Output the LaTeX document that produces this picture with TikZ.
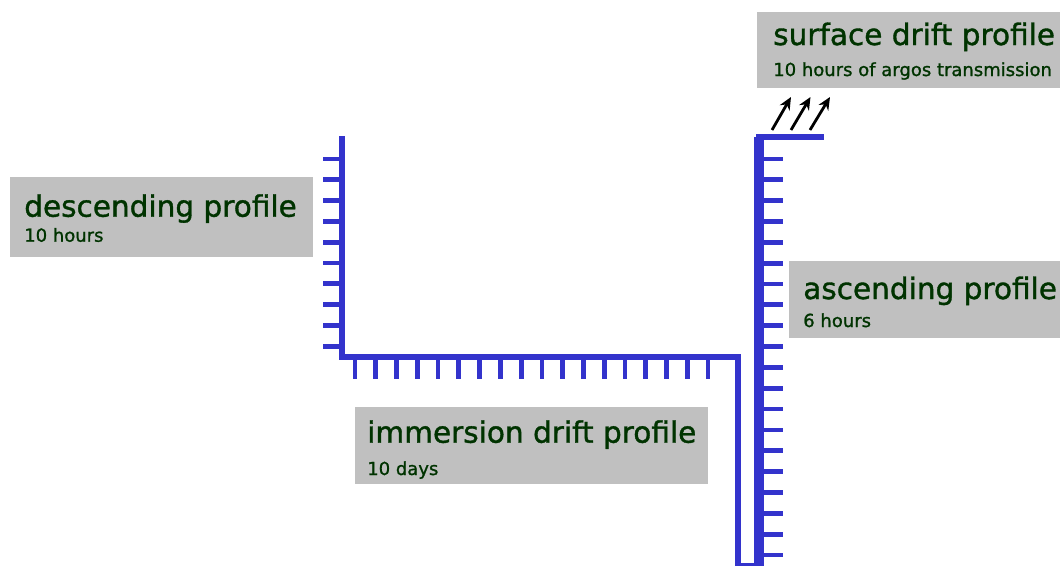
\documentclass[tikz,border=0pt]{standalone}
\usepackage{fontspec}
\setmainfont{DejaVu Sans}
\newfontfamily\boldishfont[FakeBold=1.2]{DejaVu Sans}
\usetikzlibrary{arrows.meta}
\definecolor{floatblue}{RGB}{51,51,204}
\definecolor{labelgray}{RGB}{192,192,192}
\definecolor{labelgreen}{RGB}{0,51,0}
\tikzset{
    bigtxt/.style={font=\boldishfont\fontsize{21}{25}\selectfont, text=labelgreen,
                   anchor=base west, inner sep=0pt},
    smalltxt/.style={font=\boldishfont\fontsize{12.8}{15}\selectfont, text=labelgreen,
                     anchor=base west, inner sep=0pt},
    profline/.style={floatblue, line width=0.15cm},
    tick/.style={floatblue, line width=0.12cm},
}
\begin{document}
\begin{tikzpicture}[x=0.025cm, y=-0.025cm]
\useasboundingbox (0,0) rectangle (1060,566);
\begin{scope}
    \fill[labelgray] (10,177)  rectangle (313,257);
    \node[bigtxt]   (desc)   at (24,216.7) {descending profile};
    \node[smalltxt] (desct)  at (24,241.7) {10 hours};

    \fill[labelgray] (355,407) rectangle (708,484);
    \node[bigtxt]   (immer)  at (367,442.7) {immersion drift profile};
    \node[smalltxt] (immert) at (367,475)   {10 days};

    \fill[labelgray] (789,261) rectangle (1060,338);
    \node[bigtxt]   (asc)    at (803,299)   {ascending profile};
    \node[smalltxt] (asct)   at (803,327)   {6 hours};

    \fill[labelgray] (757,12)  rectangle (1060,88);
    \node[bigtxt]   (surf)   at (773,45)    {surface drift profile};
    \node[smalltxt] (surft)  at (773,76)    {10 hours of argos transmission};

    \draw[profline] (342,136) -- (342,357) -- (738,357) -- (738,566) -- (759,566);
    \draw[profline, line width=0.25cm] (759,566) -- (759,137);
    \draw[profline] (756,136.7) -- (824,136.7);

    \foreach \k in {0,...,9}{
        \draw[tick] (323,159+20.8*\k) -- (342,159+20.8*\k);
    }
    \foreach \k in {0,...,17}{
        \draw[tick] (355+20.77*\k,357) -- (355+20.77*\k,379);
    }
    \foreach \k in {0,...,19}{
        \draw[tick] (759,159+20.84*\k) -- (783,159+20.84*\k);
    }

    \foreach \k in {0,1,2}{
        \draw[-{Stealth[length=9pt,width=8pt]}, line width=0.07cm]
            (772+19*\k,130) -- (791+19.5*\k,97);
    }
\end{scope}
\end{tikzpicture}
\end{document}
